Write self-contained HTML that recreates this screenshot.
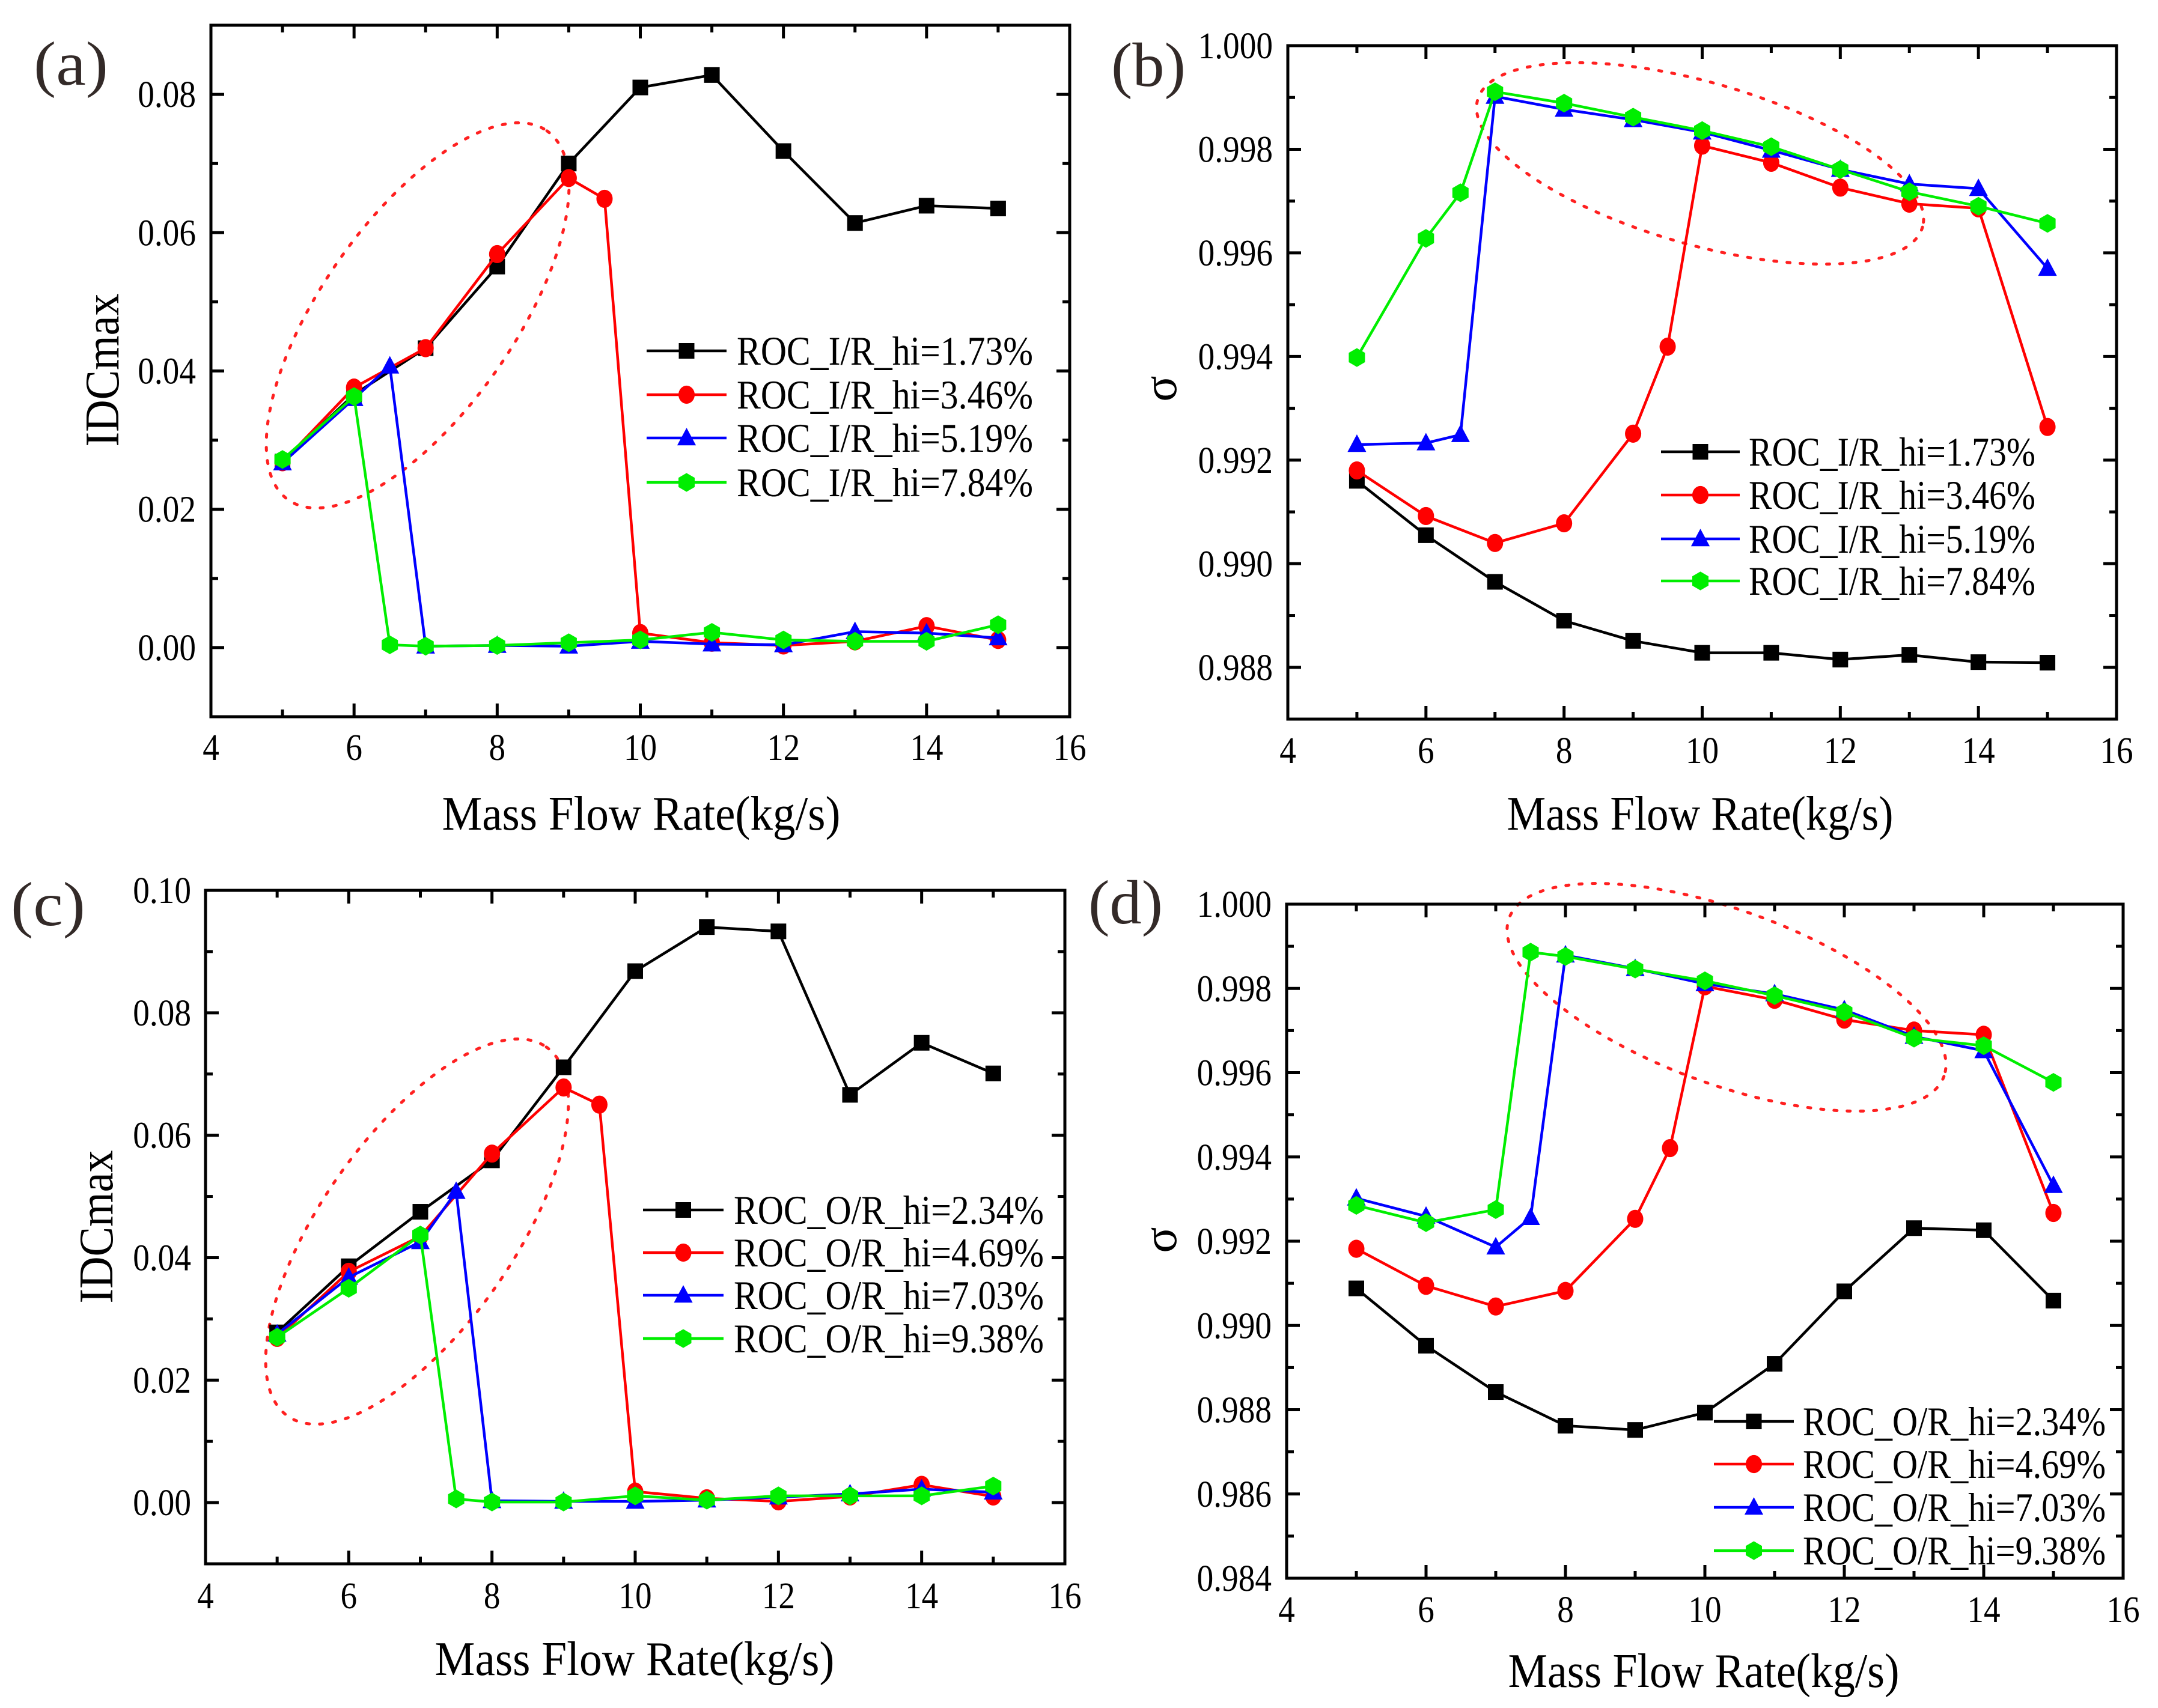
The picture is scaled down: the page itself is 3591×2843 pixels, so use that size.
<!DOCTYPE html>
<html><head><meta charset="utf-8"><style>
html,body{margin:0;padding:0;background:#fff;}
svg{display:block;}
text{font-family:"Liberation Serif","Times New Roman",serif;}
</style></head><body>
<svg id="fig" width="3591" height="2843" viewBox="0 0 3591 2843" xmlns="http://www.w3.org/2000/svg" font-family="Liberation Serif, Times New Roman, serif"></svg>
<script>
// ---------- data ----------
const xA = [5,6,7,8,9,10,11,12,13,14,15];
const xRed = [5,6,7,8,9,9.5,10,11,12,13,14,15];
const xEarlyA = [5,6,6.5,7,8,9,10,11,12,13,14,15];
const xEarlyC = [5,6,7,7.5,8,9,10,11,12,13,14,15];

const aBlack = [0.0269,0.0366,0.0433,0.0551,0.0700,0.0810,0.0828,0.0718,0.0614,0.0639,0.0635];
const aRed   = [0.0268,0.0376,0.0433,0.0569,0.0679,0.0649,0.0021,0.0007,0.0003,0.0009,0.0031,0.0011];
const aBlue  = [0.0267,0.0360,0.0407,0.0002,0.0003,0.0002,0.0009,0.0005,0.0004,0.0023,0.0021,0.0014];
const aGreen = [0.0272,0.0363,0.0004,0.0002,0.0003,0.0007,0.0011,0.0022,0.0011,0.0009,0.0009,0.0033];

const bBlack = [0.99160,0.99055,0.98965,0.98890,0.98851,0.98828,0.98828,0.98815,0.98824,0.98810,0.98809];
const bRed   = [0.99180,0.99092,0.99040,0.99078,0.99251,0.99419,0.99807,0.99774,0.99726,0.99695,0.99686,0.99264];
const bBlue  = [0.99230,0.99233,0.99249,0.99902,0.99877,0.99857,0.99833,0.99798,0.99761,0.99733,0.99724,0.99570];
const bGreen = [0.99398,0.99628,0.99716,0.99911,0.99889,0.99862,0.99836,0.99805,0.99761,0.99718,0.99690,0.99657];

const cBlack = [0.0278,0.0386,0.0475,0.0559,0.0711,0.0868,0.0940,0.0933,0.0666,0.0751,0.0701];
const cRed   = [0.0269,0.0377,0.0435,0.0570,0.0678,0.0650,0.0018,0.0007,0.0002,0.0010,0.0029,0.0010];
const cBlue  = [0.0275,0.0368,0.0426,0.0508,0.0003,0.0002,0.0002,0.0004,0.0009,0.0014,0.0022,0.0017];
const cGreen = [0.0270,0.0350,0.0437,0.0006,0.0001,0.0001,0.0011,0.0004,0.0011,0.0011,0.0011,0.0027];

const dBlack = [0.99088,0.98952,0.98842,0.98762,0.98752,0.98793,0.98909,0.99081,0.99231,0.99226,0.99059];
const dRed   = [0.99182,0.99094,0.99045,0.99082,0.99253,0.99421,0.99805,0.99773,0.99726,0.99700,0.99690,0.99267];
const dBlue  = [0.99302,0.99259,0.99186,0.99256,0.99879,0.99847,0.99811,0.99787,0.99749,0.99686,0.99652,0.99332];
const dGreen = [0.99285,0.99244,0.99275,0.99886,0.99876,0.99846,0.99818,0.99783,0.99744,0.99682,0.99664,0.99577];

const xTicks = [4,6,8,10,12,14,16];
const yTicksIDCa = [0.00,0.02,0.04,0.06,0.08];
const yTicksIDCc = [0.00,0.02,0.04,0.06,0.08,0.10];
const yTicksSigB = [0.988,0.990,0.992,0.994,0.996,0.998,1.000];
const yTicksSigD = [0.984,0.986,0.988,0.990,0.992,0.994,0.996,0.998,1.000];

const legA = ["ROC_I/R_hi=1.73%","ROC_I/R_hi=3.46%","ROC_I/R_hi=5.19%","ROC_I/R_hi=7.84%"];
const legC = ["ROC_O/R_hi=2.34%","ROC_O/R_hi=4.69%","ROC_O/R_hi=7.03%","ROC_O/R_hi=9.38%"];

// ---------- helpers ----------
const NS = "http://www.w3.org/2000/svg";
const fig = document.getElementById("fig");
function mk(tag, attrs, parent){
  const e = document.createElementNS(NS, tag);
  for (const k in attrs) e.setAttribute(k, attrs[k]);
  (parent||fig).appendChild(e);
  return e;
}
function tw(s){ let w=0; for (const c of s) w += (c==='.')?14:27.6; return w; }
const COLORS = ["#000000","#ff0000","#0000ff","#00ee00"];
const SHAPES = ["square","circle","triangle","hexagon"];

function marker(g, shape, cx, cy, color, s){
  let e;
  if (shape==="square"){
    e = mk("rect",{x:cx-s/2,y:cy-s/2,width:s,height:s,fill:color},g);
  } else if (shape==="circle"){
    e = mk("ellipse",{cx:cx,cy:cy,rx:s*0.52,ry:s*0.58,fill:color},g);
  } else if (shape==="triangle"){
    const h=s*1.05;
    e = mk("polygon",{points:`${cx},${cy-h*0.62} ${cx-s*0.6},${cy+h*0.45} ${cx+s*0.6},${cy+h*0.45}`,fill:color},g);
  } else {
    const r=s*0.6; let p=[];
    for(let i=0;i<6;i++){const a=Math.PI/3*i+Math.PI/6; p.push((cx+r*Math.cos(a)).toFixed(1)+","+(cy+r*Math.sin(a)).toFixed(1));}
    e = mk("polygon",{points:p.join(" "),fill:color},g);
  }
  
  
  return e;
}

function panel(cfg){
  const g = mk("g",{});
  
  
  const {L,R,T,B,ymin,ymax} = cfg;
  const sx = x => L + (x-4)/(16-4)*(R-L);
  const sy = y => B - (y-ymin)/(ymax-ymin)*(B-T);

  const el = mk("ellipse",{cx:cfg.ell[0],cy:cfg.ell[1],rx:cfg.ell[2],ry:cfg.ell[3],
    transform:`rotate(${cfg.ell[4]} ${cfg.ell[0]} ${cfg.ell[1]})`,fill:"none",stroke:"#ff2020","stroke-width":5,"stroke-dasharray":"5 17","stroke-linecap":"round"},g);
  
  

  cfg.series.forEach((s,i)=>{
    const sg = mk("g",{},g);
    
    
    const pts = s.x.map((x,j)=>sx(x).toFixed(1)+","+sy(s.y[j]).toFixed(1)).join(" ");
    const pl = mk("polyline",{points:pts,fill:"none",stroke:COLORS[i],"stroke-width":4.5,"stroke-linejoin":"round"},sg);
    
    
    s.x.forEach((x,j)=>marker(sg,SHAPES[i],sx(x),sy(s.y[j]),COLORS[i],26));
  });

  const fr = mk("rect",{x:L,y:T,width:R-L,height:B-T,fill:"none",stroke:"#000","stroke-width":5},g);
  
  

  const tg = mk("g",{stroke:"#000","stroke-width":5},g);
  
  
  for (let x=4; x<=16; x+=1){
    const major = x%2===0; const len = major?22:12; const X=sx(x);
    mk("line",{x1:X,y1:B,x2:X,y2:B-len},tg);
    mk("line",{x1:X,y1:T,x2:X,y2:T+len},tg);
  }
  xTicks.forEach(x=>{
    const s=String(x);
    const t = mk("text",{x:sx(x),y:cfg.xLabY,"font-size":62,"text-anchor":"middle",textLength:tw(s),lengthAdjust:"spacingAndGlyphs"},g);
    t.textContent = s;
    
    
  });
  const st = cfg.yStep/2;
  for (let y=ymin; y<=ymax+1e-9; y+=st){
    const k = Math.round((y-cfg.yTicks[0])/st);
    const major = (Math.abs(k)%2===0); const len=major?22:12; const Y=sy(y);
    mk("line",{x1:L,y1:Y,x2:L+len,y2:Y},tg);
    mk("line",{x1:R,y1:Y,x2:R-len,y2:Y},tg);
  }
  cfg.yTicks.forEach(y=>{
    const s=y.toFixed(cfg.dec);
    const t = mk("text",{x:cfg.yLabX,y:sy(y)+21,"font-size":62,"text-anchor":"end",textLength:tw(s),lengthAdjust:"spacingAndGlyphs"},g);
    t.textContent = s;
    
    
  });

  const xt = mk("text",{x:cfg.xt[0],y:cfg.xt[1]+27,"font-size":80,"text-anchor":"middle",textLength:cfg.xt[2],lengthAdjust:"spacingAndGlyphs"},g);
  xt.textContent = "Mass Flow Rate(kg/s)";
  
  
  const yt = mk("text",{x:0,y:0,"font-size":80,"text-anchor":"middle",
    transform:`translate(${cfg.yt[0]+27},${cfg.yt[1]}) rotate(-90)`},g);
  if (cfg.yt[2]) { yt.setAttribute("textLength",cfg.yt[2]); yt.setAttribute("lengthAdjust","spacingAndGlyphs"); }
  yt.textContent = cfg.ytitle;
  
  

  const pl = mk("text",{x:cfg.lab[0],y:cfg.lab[1]+34,"font-size":104,"text-anchor":"middle",fill:"#332a28",textLength:124,lengthAdjust:"spacingAndGlyphs"},g);
  pl.textContent = cfg.label;
  
  

  const lg = mk("g",{},g);
  
  
  cfg.leg.rows.forEach((ry,i)=>{
    const e = mk("g",{},lg);
    
    
    mk("line",{x1:cfg.leg.x1,y1:ry,x2:cfg.leg.x2,y2:ry,stroke:COLORS[i],"stroke-width":4.5},e);
    marker(e,SHAPES[i],(cfg.leg.x1+cfg.leg.x2)/2,ry,COLORS[i],26);
    const t = mk("text",{x:cfg.leg.tx,y:ry+23,"font-size":68,textLength:cfg.leg.tw,lengthAdjust:"spacingAndGlyphs"},e);
    t.textContent = cfg.leg.labels[i];
  });
}

panel({name:"panel-a-idcmax-inlet",label:"(a)",lab:[118,107],L:351,R:1780,T:42,B:1193,ymin:-0.01,ymax:0.09,
  yTicks:yTicksIDCa,yStep:0.02,dec:2,yLabX:326,xLabY:1265,xt:[1067,1354,663],yt:[170,616,255],ytitle:"IDCmax",
  ell:[695,525,375,160,-55],
  series:[{x:xA,y:aBlack},{x:xRed,y:aRed},{x:xEarlyA,y:aBlue},{x:xEarlyA,y:aGreen}],
  leg:{x1:1076,x2:1209,tx:1226,tw:493,rows:[584,657,729,803],labels:legA}});

panel({name:"panel-b-sigma-inlet",label:"(b)",lab:[1911,109],L:2143,R:3522,T:76,B:1197,ymin:0.987,ymax:1.000,
  yTicks:yTicksSigB,yStep:0.002,dec:3,yLabX:2118,xLabY:1270,xt:[2829,1354,643],yt:[1930,647,0],ytitle:"σ",
  ell:[2829,272,385,135,16],
  series:[{x:xA,y:bBlack},{x:xRed,y:bRed},{x:xEarlyA,y:bBlue},{x:xEarlyA,y:bGreen}],
  leg:{x1:2764,x2:2895,tx:2910,tw:477,rows:[752,824,897,967],labels:legA}});

panel({name:"panel-c-idcmax-outlet",label:"(c)",lab:[80,1506],L:342,R:1772,T:1482,B:2603,ymin:-0.01,ymax:0.10,
  yTicks:yTicksIDCc,yStep:0.02,dec:2,yLabX:318,xLabY:2677,xt:[1056,2761,665],yt:[160,2042,255],ytitle:"IDCmax",
  ell:[694,2050,375,160,-55],
  series:[{x:xA,y:cBlack},{x:xRed,y:cRed},{x:xEarlyC,y:cBlue},{x:xEarlyC,y:cGreen}],
  leg:{x1:1070,x2:1204,tx:1221,tw:516,rows:[2014,2085,2156,2228],labels:legC}});

panel({name:"panel-d-sigma-outlet",label:"(d)",lab:[1873,1503],L:2141,R:3533,T:1505,B:2627,ymin:0.984,ymax:1.000,
  yTicks:yTicksSigD,yStep:0.002,dec:3,yLabX:2116,xLabY:2700,xt:[2835,2781,651],yt:[1930,2064,0],ytitle:"σ",
  ell:[2873,1660,385,145,20],
  series:[{x:xA,y:dBlack},{x:xRed,y:dRed},{x:xEarlyC,y:dBlue},{x:xEarlyC,y:dGreen}],
  leg:{x1:2852,x2:2985,tx:3000,tw:504,rows:[2366,2437,2509,2581],labels:legC}});
</script>
</body></html>
